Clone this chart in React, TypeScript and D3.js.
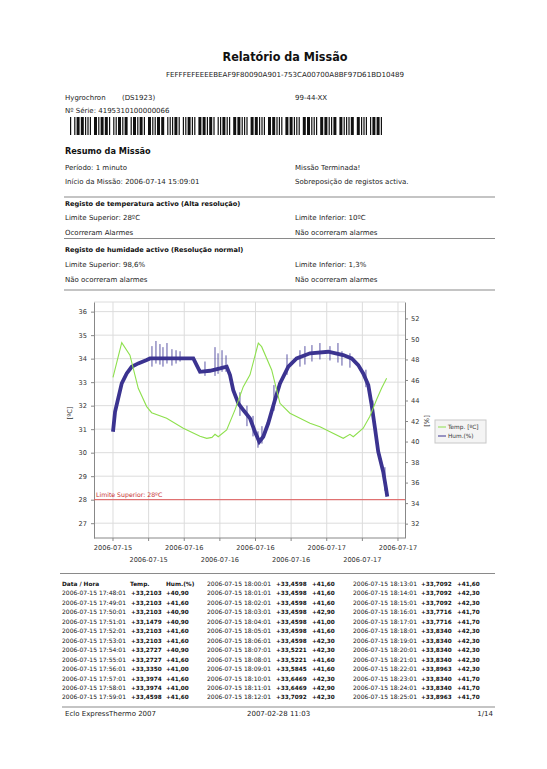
import React, { useEffect, useRef } from 'react';
import * as d3 from 'd3';

// mission / device info
const deviceId = 'FEFFFEFEEEEBEAF9F80090A901-753CA00700A8BF97D61BD10489';
const serialNumber = '4195310100000066';

// chart series: [minutes since 2006-07-15 17:48:01, value]
const tempSeries: [number, number][] = [
  [0, 33.2], [81, 34.68], [157, 34.15], [234, 32.74], [312, 31.96], [358, 31.7],
  [497, 31.46], [651, 31.04], [806, 30.7], [868, 30.61], [917, 30.65], [945, 30.78],
  [975, 30.68], [1053, 30.97], [1130, 31.82], [1207, 32.81], [1269, 33.31], [1346, 34.66],
  [1377, 34.51], [1470, 33.52], [1547, 32.1], [1639, 31.68], [1825, 31.25], [1917, 31.1],
  [2010, 30.89], [2133, 30.61], [2195, 30.78], [2226, 30.68], [2318, 31.04], [2380, 31.55],
  [2442, 32.26], [2489, 32.75], [2535, 33.17],
];

const humSeries: [number, number][] = [
  [0, 40.96], [19, 42.9], [81, 45.67], [127, 46.64], [173, 47.29], [234, 47.62],
  [312, 47.94], [343, 48.1], [744, 48.1], [775, 47.45], [806, 46.8], [898, 46.9],
  [991, 47.13], [1053, 47.3], [1084, 46.48], [1114, 45.0], [1161, 43.72], [1207, 43.07],
  [1269, 42.26], [1315, 40.96], [1355, 39.98], [1392, 40.47], [1438, 41.78], [1500, 44.05],
  [1547, 45.67], [1624, 47.29], [1701, 48.1], [1825, 48.6], [1994, 48.75], [2133, 48.43],
  [2211, 48.1], [2272, 47.45], [2318, 46.64], [2365, 45.5], [2396, 43.56], [2427, 41.29],
  [2457, 39.01], [2503, 37.06], [2529, 35.45], [2541, 34.63],
];

// noisy excursions of humidity: [minute, low, high]
const humSpikes: [number, number, number][] = [
  [361, 47.3, 49.3], [398, 47.6, 49.8], [435, 47.5, 49.5], [463, 47.3, 49.2],
  [500, 47.6, 49.6], [546, 47.4, 49.0], [584, 47.6, 48.9], [621, 47.8, 48.8],
  [852, 46.4, 47.8], [945, 46.4, 49.2], [973, 46.6, 48.6], [1010, 46.8, 48.9],
  [1047, 46.8, 48.4], [1176, 42.5, 44.8], [1241, 41.5, 43.5], [1297, 40.5, 42.5],
  [1343, 39.4, 41.0], [1380, 39.8, 41.5], [1491, 43.0, 45.5], [1612, 46.5, 48.5],
  [1732, 47.3, 48.9], [1778, 47.5, 49.3], [1843, 47.8, 49.4], [1917, 48.0, 49.6],
  [2010, 47.9, 49.3], [2084, 47.7, 49.6], [2121, 47.4, 48.8], [2195, 47.2, 48.6],
  [2343, 45.3, 47.0], [2408, 42.0, 44.0], [2519, 35.2, 37.5],
];

const tempTicks = d3.range(27, 37);
const humTicks = d3.range(32, 53, 2);
const tickStepMinutes = 330;
const tickCount = 9;
const tempLimitHigh = 28;

// data table: [time, temp, hum]
const tableRows: [string, string, string][] = [
  ['2006-07-15 17:48:01', '+33,2103', '+40,90'],
  ['2006-07-15 17:49:01', '+33,2103', '+41,60'],
  ['2006-07-15 17:50:01', '+33,2103', '+40,90'],
  ['2006-07-15 17:51:01', '+33,1479', '+40,90'],
  ['2006-07-15 17:52:01', '+33,2103', '+41,60'],
  ['2006-07-15 17:53:01', '+33,2103', '+41,60'],
  ['2006-07-15 17:54:01', '+33,2727', '+40,90'],
  ['2006-07-15 17:55:01', '+33,2727', '+41,60'],
  ['2006-07-15 17:56:01', '+33,3350', '+41,00'],
  ['2006-07-15 17:57:01', '+33,3974', '+41,60'],
  ['2006-07-15 17:58:01', '+33,3974', '+41,00'],
  ['2006-07-15 17:59:01', '+33,4598', '+41,60'],
  ['2006-07-15 18:00:01', '+33,4598', '+41,60'],
  ['2006-07-15 18:01:01', '+33,4598', '+41,60'],
  ['2006-07-15 18:02:01', '+33,4598', '+41,60'],
  ['2006-07-15 18:03:01', '+33,4598', '+42,90'],
  ['2006-07-15 18:04:01', '+33,4598', '+41,00'],
  ['2006-07-15 18:05:01', '+33,4598', '+41,60'],
  ['2006-07-15 18:06:01', '+33,4598', '+42,30'],
  ['2006-07-15 18:07:01', '+33,5221', '+42,30'],
  ['2006-07-15 18:08:01', '+33,5221', '+41,60'],
  ['2006-07-15 18:09:01', '+33,5845', '+41,60'],
  ['2006-07-15 18:10:01', '+33,6469', '+42,30'],
  ['2006-07-15 18:11:01', '+33,6469', '+42,90'],
  ['2006-07-15 18:12:01', '+33,7092', '+42,30'],
  ['2006-07-15 18:13:01', '+33,7092', '+41,60'],
  ['2006-07-15 18:14:01', '+33,7092', '+42,30'],
  ['2006-07-15 18:15:01', '+33,7092', '+42,30'],
  ['2006-07-15 18:16:01', '+33,7716', '+41,70'],
  ['2006-07-15 18:17:01', '+33,7716', '+41,70'],
  ['2006-07-15 18:18:01', '+33,8340', '+42,30'],
  ['2006-07-15 18:19:01', '+33,8340', '+42,30'],
  ['2006-07-15 18:20:01', '+33,8340', '+42,30'],
  ['2006-07-15 18:21:01', '+33,8340', '+42,30'],
  ['2006-07-15 18:22:01', '+33,8963', '+42,30'],
  ['2006-07-15 18:23:01', '+33,8340', '+41,70'],
  ['2006-07-15 18:24:01', '+33,8340', '+41,70'],
  ['2006-07-15 18:25:01', '+33,8963', '+41,70'],
];

// code 39 patterns (n = narrow, w = wide), bar/space alternating
const code39: Record<string, string> = {
  '0': 'nnnwwnwnn', '1': 'wnnwnnnnw', '2': 'nnwwnnnnw', '3': 'wnwwnnnnn',
  '4': 'nnnwwnnnw', '5': 'wnnwwnnnn', '6': 'nnwwwnnnn', '7': 'nnnwnnwnw',
  '8': 'wnnwnnwnn', '9': 'nnwwnnwnn', '*': 'nwnnwnwnn',
};

const FONT = '"DejaVu Sans", Verdana, sans-serif';
const W = 547;
const H = 769;

function drawReport(node: SVGSVGElement) {
  const svg = d3.select(node);
  svg.selectAll('*').remove();
  svg.append('rect').attr('width', W).attr('height', H).attr('fill', '#fff');

  const text = (x: number, y: number, s: string, size = 7, weight = 'normal', anchor = 'start', fill = '#222') =>
    svg
      .append('text')
      .attr('x', x)
      .attr('y', y)
      .attr('font-family', FONT)
      .attr('font-size', size)
      .attr('font-weight', weight)
      .attr('text-anchor', anchor)
      .attr('fill', fill)
      .text(s);

  const rule = (x1: number, x2: number, y: number) =>
    svg.append('line').attr('x1', x1).attr('x2', x2).attr('y1', y).attr('y2', y)
      .attr('stroke', '#8a8a8a').attr('stroke-width', 1.2);

  // header
  text(285, 61, 'Relatório da Missão', 12.5, 'bold', 'middle', '#111')
    .attr('textLength', 125).attr('lengthAdjust', 'spacingAndGlyphs');
  text(285, 77, deviceId, 7, 'normal', 'middle')
    .attr('textLength', 238).attr('lengthAdjust', 'spacingAndGlyphs');
  text(65, 100, 'Hygrochron');
  text(122, 100, '(DS1923)');
  text(295, 100, '99-44-XX');
  text(65, 113, 'Nº Série: ' + serialNumber);

  // barcode
  const code = '*' + serialNumber + '*';
  const narrow = 312 / (code.length * 14.5 - 1);
  let bx = 70;
  code.split('').forEach((ch) => {
    code39[ch].split('').forEach((p, i) => {
      const w = p === 'w' ? narrow * 2.5 : narrow;
      if (i % 2 === 0) svg.append('rect').attr('x', bx).attr('y', 117).attr('width', w).attr('height', 18).attr('fill', '#111');
      bx += w;
    });
    bx += narrow;
  });

  // summary
  text(65, 154, 'Resumo da Missão', 8.2, 'bold', 'start', '#111');
  text(65, 170, 'Período: 1 minuto');
  text(295, 170, 'Missão Terminada!');
  text(65, 184, 'Início da Missão: 2006-07-14 15:09:01');
  text(295, 184, 'Sobreposição de registos activa.');
  rule(64, 495, 197);
  text(65, 206, 'Registo de temperatura activo (Alta resolução)', 6.6, 'bold', 'start', '#111');
  text(65, 220, 'Limite Superior: 28ºC');
  text(295, 220, 'Limite Inferior: 10ºC');
  text(65, 235, 'Ocorreram Alarmes');
  text(295, 235, 'Não ocorreram alarmes');
  rule(64, 495, 238.5);
  text(65, 252, 'Registo de humidade activo (Resolução normal)', 6.6, 'bold', 'start', '#111');
  text(65, 267, 'Limite Superior: 98,6%');
  text(295, 267, 'Limite Inferior: 1,3%');
  text(65, 282, 'Não ocorreram alarmes');
  text(295, 282, 'Não ocorreram alarmes');
  rule(64, 495, 290);

  // chart
  const plot = { left: 94, right: 405, top: 302, bottom: 538 };
  const t0 = new Date(2006, 6, 15, 17, 48, 1);
  const toDate = (m: number) => new Date(t0.getTime() + m * 60000);
  const x = d3.scaleTime().domain([toDate(-176), toDate(2705)]).range([plot.left, plot.right]);
  const yT = d3.scaleLinear().domain([26.37, 36.41]).range([plot.bottom, plot.top]);
  const yH = d3.scaleLinear().domain([30.6, 53.6]).range([plot.bottom, plot.top]);
  const tickDates = d3.range(tickCount).map((k) => toDate(k * tickStepMinutes));
  const fmt = d3.timeFormat('%Y-%m-%d');

  const grid = svg.append('g').attr('stroke', '#dcdcdc').attr('stroke-width', 1);
  grid.selectAll('.h').data(tempTicks).join('line')
    .attr('x1', plot.left).attr('x2', plot.right)
    .attr('y1', (d) => yT(d)).attr('y2', (d) => yT(d));
  grid.selectAll('.v').data(tickDates).join('line')
    .attr('x1', (d) => x(d)).attr('x2', (d) => x(d))
    .attr('y1', plot.top).attr('y2', plot.bottom);
  grid.append('line').attr('x1', plot.left).attr('x2', plot.right).attr('y1', plot.top).attr('y2', plot.top);

  const styleAxis = (g: any) => {
    g.select('.domain').attr('stroke', '#888');
    g.selectAll('.tick line').attr('stroke', '#888');
    g.selectAll('.tick text').attr('fill', '#333').attr('font-family', FONT).attr('font-size', 6.6);
  };

  svg.append('g').attr('transform', `translate(${plot.left},0)`)
    .call(d3.axisLeft(yT).tickValues(tempTicks).tickSize(3).tickSizeOuter(0).tickPadding(4))
    .call(styleAxis);
  svg.append('g').attr('transform', `translate(${plot.right},0)`)
    .call(d3.axisRight(yH).tickValues(humTicks).tickSize(3).tickSizeOuter(0).tickPadding(3))
    .call(styleAxis);

  const xAxis = svg.append('g');
  xAxis.append('line').attr('x1', plot.left).attr('x2', plot.right)
    .attr('y1', plot.bottom).attr('y2', plot.bottom).attr('stroke', '#888');
  xAxis.selectAll('line.tk').data(tickDates).join('line').attr('class', 'tk')
    .attr('x1', (d) => x(d)).attr('x2', (d) => x(d))
    .attr('y1', plot.bottom).attr('y2', plot.bottom + 3).attr('stroke', '#888');
  xAxis.selectAll('text').data(tickDates).join('text')
    .attr('x', (d) => x(d))
    .attr('y', (d, i) => (i % 2 === 0 ? 550 : 562))
    .attr('text-anchor', 'middle')
    .attr('font-family', FONT).attr('font-size', 6.6).attr('fill', '#333')
    .text((d) => fmt(d));

  // axis titles
  svg.append('text').attr('transform', 'translate(72,413) rotate(-90)')
    .attr('text-anchor', 'middle').attr('font-family', FONT).attr('font-size', 6.6).attr('fill', '#333')
    .text('[ºC]');
  svg.append('text').attr('transform', 'translate(429,421) rotate(-90)')
    .attr('text-anchor', 'middle').attr('font-family', FONT).attr('font-size', 6.6).attr('fill', '#333')
    .text('[%]');

  // limit
  svg.append('line').attr('x1', plot.left).attr('x2', plot.right)
    .attr('y1', yT(tempLimitHigh)).attr('y2', yT(tempLimitHigh))
    .attr('stroke', '#e05a5a').attr('stroke-width', 1);
  text(plot.left + 2, yT(tempLimitHigh) - 3, 'Limite Superior: 28ºC', 6.2, 'normal', 'start', '#c83030');

  // humidity
  svg.append('g').selectAll('line').data(humSpikes).join('line')
    .attr('x1', (d) => x(toDate(d[0]))).attr('x2', (d) => x(toDate(d[0])))
    .attr('y1', (d) => yH(d[1])).attr('y2', (d) => yH(d[2]))
    .attr('stroke', '#4a449c').attr('stroke-width', 0.9);
  const hLine = d3.line<[number, number]>().x((d) => x(toDate(d[0]))).y((d) => yH(d[1]));
  svg.append('path').attr('d', hLine(humSeries)).attr('fill', 'none')
    .attr('stroke', '#3b3390').attr('stroke-width', 3.8).attr('stroke-linejoin', 'miter');

  // temperature
  const tLine = d3.line<[number, number]>().x((d) => x(toDate(d[0]))).y((d) => yT(d[1]));
  svg.append('path').attr('d', tLine(tempSeries)).attr('fill', 'none')
    .attr('stroke', '#8ee04e').attr('stroke-width', 1.1);

  // legend
  const lg = svg.append('g').attr('transform', 'translate(435,420)');
  lg.append('rect').attr('width', 51).attr('height', 23).attr('fill', '#f4f4f4').attr('stroke', '#c8c8c8');
  [['Temp. [ºC]', '#8ee04e'], ['Hum.(%)', '#3b3390']].forEach(([label, c], i) => {
    lg.append('line').attr('x1', 3).attr('x2', 11).attr('y1', 7 + i * 9).attr('y2', 7 + i * 9).attr('stroke', c);
    lg.append('text').attr('x', 13).attr('y', 9.3 + i * 9).attr('font-family', FONT).attr('font-size', 5.8)
      .attr('fill', '#333').text(label);
  });

  // data table
  rule(60, 495, 573.5);
  const cols = [
    { x: 62, tx: 130, hx: 166 },
    { x: 207, tx: 275, hx: 312 },
    { x: 353, tx: 420, hx: 457 },
  ];
  const rowY = (r: number) => 586 + r * 9.45;
  const bold = (x: number, y: number, s: string) => text(x, y, s, 5.8, 'bold', 'start', '#111');
  bold(cols[0].x, rowY(0), 'Data / Hora');
  bold(cols[0].tx, rowY(0), 'Temp.');
  bold(cols[0].hx, rowY(0), 'Hum.(%)');
  tableRows.forEach((row, i) => {
    const slot = i + 1;
    const c = cols[Math.floor(slot / 13)];
    const r = slot % 13;
    text(c.x, rowY(r), row[0], 6, 'normal', 'start', '#111').attr('textLength', 64).attr('lengthAdjust', 'spacingAndGlyphs');
    text(c.tx + 1, rowY(r), row[1], 5.7, 'bold', 'start', '#111');
    text(c.hx, rowY(r), row[2], 5.7, 'bold', 'start', '#111');
  });

  // footer
  rule(62, 495, 707);
  text(65, 716, 'Eclo ExpressThermo 2007', 7);
  text(247, 716, '2007-02-28 11:03', 7);
  text(493, 716, '1/14', 7, 'normal', 'end');
}

export default function App() {
  const ref = useRef<SVGSVGElement>(null);
  useEffect(() => {
    if (ref.current) drawReport(ref.current);
  }, []);
  return (
    <svg
      ref={ref}
      width={W}
      height={H}
      style={{ position: 'absolute', left: 0, top: 0, display: 'block' }}
    />
  );
}
